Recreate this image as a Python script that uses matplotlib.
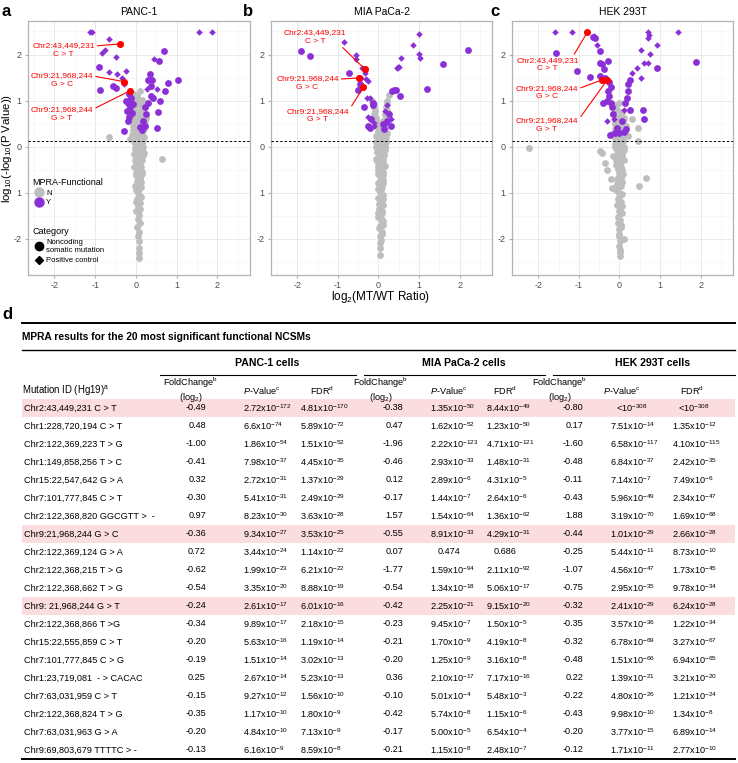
import matplotlib
matplotlib.use('Agg')
import matplotlib.pyplot as plt
from matplotlib.lines import Line2D
from matplotlib.patches import Rectangle
import numpy as np

plt.rcParams['font.family'] = ['Liberation Sans', 'DejaVu Sans']
plt.rcParams['mathtext.fontset'] = 'custom'
plt.rcParams['mathtext.rm'] = 'Liberation Sans'
plt.rcParams['mathtext.it'] = 'Liberation Sans:italic'
plt.rcParams['mathtext.bf'] = 'Liberation Sans:bold'

GRAY = '#BEBEBE'
PURPLE = '#8B2FD6'
RED = '#FF0000'

# ---------------- volcano data ----------------
# Panel a: PANC-1
a_gray_x = [-0.05, 0.02, 0.10, -0.10, 0.05, 0.15, -0.08, 0.00, 0.12, 0.20, -0.12, -0.02, 0.08, 0.18, -0.10, 0.00,
            0.10, 0.20, -0.05, 0.05, 0.15, 0.22, -0.08, 0.02, 0.12, 0.20, -0.04, 0.06, 0.16, -0.10, 0.00, 0.10,
            0.20, -0.66, -0.14, 0.05, 0.15, -0.03, 0.08, 0.18, 0.00, 0.10, 0.20, 0.03, 0.13, 0.64, 0.00, 0.10,
            0.05, 0.15, 0.00, 0.10, 0.05, 0.12, 0.00, 0.08, 0.03, 0.10, 0.05, 0.00, 0.08, 0.05, 0.10, 0.02,
            0.07, 0.05, 0.08, 0.07, 0.07, 0.08,
            -0.06, 0.04, 0.14, 0.24, -0.02, 0.08, 0.18, -0.07, 0.03, 0.13, -0.04, 0.06, 0.16, -0.06, 0.04, 0.14,
            -0.03, 0.07, 0.17, -0.05, 0.05, 0.15, -0.02, 0.08, 0.12, -0.04, 0.06, 0.14, 0.00, 0.10, 0.02, 0.12,
            -0.02, 0.08, 0.04, 0.13, 0.00, 0.10]
a_gray_y = [1.15, 1.10, 1.20, 1.05, 1.00, 1.02, 0.92, 0.90, 0.88, 0.95, 0.80, 0.78, 0.75, 0.80, 0.68, 0.65,
            0.62, 0.66, 0.55, 0.52, 0.50, 0.55, 0.45, 0.42, 0.40, 0.38, 0.32, 0.30, 0.28, 0.25, 0.20, 0.18,
            0.20, 0.20, 0.16, 0.10, 0.08, 0.05, 0.00, -0.02, -0.08, -0.12, -0.15, -0.22, -0.25, -0.27, -0.35, -0.40,
            -0.50, -0.55, -0.62, -0.70, -0.80, -0.88, -0.95, -1.05, -1.15, -1.22, -1.30, -1.40, -1.48, -1.58, -1.65, -1.75,
            -1.85, -1.95, -2.05, -2.20, -2.32, -2.42,
            0.72, 0.70, 0.73, 0.62, 0.58, 0.57, 0.45, 0.35, 0.36, 0.33, 0.24, 0.24, 0.13, 0.12, 0.13, -0.05,
            -0.06, -0.05, -0.18, -0.17, -0.20, -0.30, -0.30, -0.33, -0.45, -0.44, -0.47, -0.60, -0.58, -0.65, -0.75, -0.78,
            -0.85, -0.92, -1.00, -1.10, -1.20, -1.35]
a_circ_x = [0.68, 0.56, -0.90, -0.57, -0.50, -0.88, 1.04, 0.79, 0.71, 0.60, 0.54, 0.52, -0.29, 0.34, 0.40, 0.30,
            0.38, 0.36, 0.42, 0.30, 0.22, 0.25, 0.18, 0.22, 0.15, -0.18, -0.12, -0.20, -0.15, -0.22, -0.18, -0.20,
            -0.10, -0.08, -0.25, 0.10]
a_circ_y = [2.07, 1.85, 1.72, 1.32, 1.27, 1.22, 1.45, 1.38, 1.20, 1.00, 0.76, 0.41, 0.33, 1.58, 1.45, 1.45,
            1.32, 1.10, 1.05, 0.95, 0.85, 0.70, 0.55, 0.45, 0.35, 1.15, 1.05, 0.95, 0.85, 0.78, 0.65, 0.55,
            0.72, 0.92, 1.00, 0.42]
a_diam_x = [-1.13, -1.07, -0.67, 1.54, 1.87, -0.75, -0.84, -0.49, 0.45, -0.67, -0.47, -0.25, 0.52, -0.35, -0.30, 0.28]
a_diam_y = [2.49, 2.49, 2.34, 2.49, 2.49, 2.09, 2.03, 1.94, 1.90, 1.62, 1.58, 1.65, 1.26, 1.50, 1.35, 1.25]
a_red_x = [-0.39, -0.29, -0.15]
a_red_y = [2.23, 1.41, 1.21]

# Panel b: MIA PaCa-2
b_gray_x = [-0.15, -0.12, -0.10, -0.08, -0.10, -0.05, -0.07, -0.03, 0.00, 0.25, 0.22, 0.20, 0.18, 0.22, 0.15, 0.18,
            0.12, 0.15, 0.10, 0.05, -0.02, 0.08, 0.15, 0.00, 0.10, 0.18, -0.05, 0.05, 0.15, 0.00, 0.10, 0.17,
            0.03, 0.12, -0.03, 0.08, 0.15, 0.00, 0.10, 0.05, 0.12, 0.00, 0.08, 0.03, 0.10, 0.00, 0.07, 0.12,
            0.02, 0.08, 0.00, 0.06, 0.10, 0.02, 0.08, 0.04, 0.07, 0.05, 0.05,
            -0.04, 0.06, 0.16, 0.00, 0.10, 0.20, -0.06, 0.04, 0.14, -0.02, 0.08, 0.18, -0.05, 0.05, 0.15, -0.03,
            0.07, 0.13, -0.05, 0.05, 0.12, -0.02, 0.08, 0.00, 0.10, 0.03, 0.12, -0.02, 0.06, 0.10, 0.02, 0.09,
            0.00, 0.06, 0.10, 0.03, 0.08, 0.05]
b_gray_y = [1.00, 0.92, 0.85, 0.78, 0.70, 0.62, 0.55, 0.48, 0.40, 1.12, 1.00, 0.92, 0.85, 0.78, 0.70, 0.62,
            0.55, 0.48, 0.40, 0.35, 0.30, 0.25, 0.30, 0.20, 0.15, 0.18, 0.10, 0.05, 0.05, -0.05, -0.10, -0.08,
            -0.20, -0.25, -0.32, -0.38, -0.42, -0.50, -0.55, -0.65, -0.72, -0.80, -0.88, -0.98, -1.05, -1.12, -1.20, -1.28,
            -1.35, -1.45, -1.52, -1.60, -1.70, -1.78, -1.85, -1.95, -2.02, -2.20, -2.35,
            0.45, 0.42, 0.40, 0.32, 0.33, 0.30, 0.22, 0.20, 0.22, 0.12, 0.10, 0.10, 0.00, -0.02, -0.02, -0.12,
            -0.15, -0.18, -0.27, -0.30, -0.32, -0.42, -0.45, -0.60, -0.62, -0.75, -0.80, -0.92, -0.95, -1.15, -1.25, -1.40,
            -1.45, -1.55, -1.62, -1.72, -1.90, -2.10]
b_circ_x = [-1.91, -1.70, -0.72, -0.46, -0.50, -0.35, -0.14, -0.14, -0.25, -0.20, 0.30, 0.13, 0.33, 0.38, 0.42, 0.52,
            1.60, 1.19, 2.20, 0.20, 0.25, -0.18, 0.10]
b_circ_y = [2.08, 1.96, 1.60, 1.35, 1.23, 0.86, 0.95, 0.90, 0.45, 0.40, 0.45, 0.38, 1.20, 1.22, 1.22, 1.10,
            1.80, 1.25, 2.09, 0.55, 0.70, 0.60, 0.50]
b_diam_x = [-0.84, -0.56, -0.56, -0.41, -0.33, -0.42, -0.30, -0.25, -0.28, -0.22, -0.11, -0.11, 0.16, 0.16, 0.30, 0.45,
            0.48, 0.50, 0.56, 0.99, 0.85, 1.00, 1.02, 0.20, -0.25]
b_diam_y = [2.27, 1.99, 1.90, 1.70, 1.60, 1.50, 1.47, 1.42, 1.06, 1.06, 0.45, 0.52, 0.50, 0.78, 0.60, 1.70,
            1.72, 1.73, 1.92, 2.44, 2.20, 2.02, 1.92, 0.90, 0.65]
b_red_x = [-0.33, -0.49, -0.37]
b_red_y = [1.68, 1.49, 1.29]

# Panel c: HEK 293T
c_gray_x = [-2.23, 0.30, 0.45, 0.46, -0.47, -0.44, -0.35, -0.30, 0.47, 0.65, -0.20, -0.18, 0.12,
            -0.10, 0.00, -0.05, 0.05, -0.15, 0.00, 0.10, -0.10, 0.05, 0.15, -0.05, 0.10, -0.15, 0.00, 0.20, -0.08,
            0.08, -0.12, 0.02, 0.12, -0.05, 0.06, -0.15, 0.00, 0.10, -0.08, 0.04, -0.02, 0.08, -0.05, 0.05, 0.00,
            -0.08, 0.06, 0.00, 0.04, -0.06, 0.02, 0.05, -0.04, 0.02, 0.04, -0.02, 0.00, 0.02, -0.02, 0.01, 0.02,
            -0.08, 0.02, 0.12, -0.12, -0.02, 0.08, -0.10, 0.00, 0.10, -0.06, 0.04, 0.14, -0.10, 0.00, 0.08, -0.06,
            0.04, -0.10, 0.02, 0.10, -0.04, 0.06, -0.08, 0.02, -0.04, 0.06, -0.02, 0.04, -0.06, 0.03, 0.00, -0.03,
            0.05, 0.00, -0.04, 0.03, 0.00, 0.02]
c_gray_y = [-0.04, 0.60, 0.40, 0.13, -0.10, -0.15, -0.35, -0.50, -0.85, -0.68, -0.70, -0.90, -2.01,
            0.90, 0.95, 0.80, 0.75, 0.70, 0.65, 0.60, 0.55, 0.50, 0.45, 0.42, 0.35, 0.30, 0.25, 0.22, 0.15,
            0.12, 0.05, 0.02, -0.02, -0.08, -0.12, -0.20, -0.25, -0.30, -0.40, -0.45, -0.55, -0.60, -0.70, -0.78, -0.88,
            -0.95, -1.02, -1.10, -1.20, -1.28, -1.35, -1.45, -1.52, -1.60, -1.70, -1.80, -1.95, -2.05, -2.15, -2.25, -2.38,
            0.62, 0.60, 0.62, 0.48, 0.47, 0.50, 0.38, 0.37, 0.40, 0.28, 0.27, 0.30, 0.18, 0.17, 0.20, 0.08,
            0.08, -0.02, -0.05, -0.08, -0.15, -0.18, -0.30, -0.35, -0.48, -0.50, -0.65, -0.68, -0.82, -0.85, -1.00, -1.15,
            -1.30, -1.40, -1.65, -1.75, -1.90, -2.30]
c_circ_x = [-0.65, -0.60, -0.48, -1.57, -1.05, -0.48, -0.42, -0.28, -0.38, -0.72, -0.48, -0.35, -0.25, -0.22, -0.28, -0.25,
            -0.40, -0.30, -0.22, -0.18, -0.23, -0.10, 0.00, 0.10, 0.15, 0.14, 0.26, 0.20, 0.25, 0.22, 0.18, 1.89,
            0.92, 0.57, 0.60, -0.15, 0.05, -0.05]
c_circ_y = [2.38, 2.35, 2.07, 2.04, 1.65, 1.82, 1.80, 1.85, 1.68, 1.52, 1.53, 1.50, 1.40, 1.30, 1.20, 1.10,
            0.94, 1.00, 0.95, 0.85, 0.25, 0.30, 0.30, 0.32, 0.38, 0.94, 0.80, 1.35, 1.45, 1.20, 1.05, 1.83,
            1.70, 0.80, 0.60, 0.70, 0.55, 0.40]
c_diam_x = [-1.59, -1.17, -0.62, -0.55, 0.32, 0.43, 0.54, 0.60, 0.70, 0.52, 0.75, 0.92, 0.70, 0.72, 0.70, 1.44,
            -0.14, -0.30, 0.10]
c_diam_y = [2.49, 2.49, 2.40, 2.20, 1.60, 1.70, 1.50, 1.82, 1.82, 2.10, 2.02, 2.20, 2.49, 2.42, 2.35, 2.49,
            0.60, 0.55, 0.80]
c_red_x = [-0.79, -0.43, -0.30]
c_red_y = [2.49, 1.45, 1.45]

red_labels = ['Chr2:43,449,231\nC > T', 'Chr9:21,968,244\nG > C', 'Chr9:21,968,244\nG > T']
panel_titles = ['PANC-1', 'MIA PaCa-2', 'HEK 293T']
x_ticks = [-2, -1, 0, 1, 2]
x_ticklabels = ['-2', '-1', '0', '1', '2']
y_ticks = [-2, -1, 0, 1, 2]
y_ticklabels = ['-2', '1', '0', '1', '2']
p_threshold = 0.05

# ---------------- table data ----------------
mutation_ids = ['Chr2:43,449,231 C > T', 'Chr1:228,720,194 C > T', 'Chr2:122,369,223 T > G',
                'Chr1:149,858,256 T > C', 'Chr15:22,547,642 G > A', 'Chr7:101,777,845 C > T',
                'Chr2:122,368,820 GGCGTT >  -', 'Chr9:21,968,244 G > C', 'Chr2:122,369,124 G > A',
                'Chr2:122,368,215 T > G', 'Chr2:122,368,662 T > G', 'Chr9: 21,968,244 G > T',
                'Chr2:122,368,866 T >G', 'Chr15:22,555,859 C > T', 'Chr7:101,777,845 C > G',
                'Chr1:23,719,081  - > CACAC', 'Chr7:63,031,959 C > T', 'Chr2:122,368,824 T > G',
                'Chr7:63,031,963 G > A', 'Chr9:69,803,679 TTTTC > -']
panc_fc = ['-0.49', '0.48', '-1.00', '-0.41', '0.32', '-0.30', '0.97', '-0.36', '0.72', '-0.62',
           '-0.54', '-0.24', '-0.34', '-0.20', '-0.19', '0.25', '-0.15', '-0.35', '-0.20', '-0.13']
panc_p = ['2.72e-172', '6.6e-74', '1.86e-54', '7.98e-37', '2.72e-31', '5.41e-31', '8.23e-30', '9.34e-27',
          '3.44e-24', '1.99e-23', '3.35e-20', '2.61e-17', '9.89e-17', '5.63e-16', '1.51e-14', '2.67e-14',
          '9.27e-12', '1.17e-10', '4.84e-10', '6.16e-9']
panc_fdr = ['4.81e-170', '5.89e-72', '1.51e-52', '4.45e-35', '1.37e-29', '2.49e-29', '3.63e-28', '3.53e-25',
            '1.14e-22', '6.21e-22', '8.88e-19', '6.01e-16', '2.18e-15', '1.19e-14', '3.02e-13', '5.23e-13',
            '1.56e-10', '1.80e-9', '7.13e-9', '8.59e-8']
mia_fc = ['-0.38', '0.47', '-1.96', '-0.46', '0.12', '-0.17', '1.57', '-0.55', '0.07', '-1.77',
          '-0.54', '-0.42', '-0.23', '-0.21', '-0.20', '0.36', '-0.10', '-0.42', '-0.17', '-0.21']
mia_p = ['1.35e-50', '1.62e-52', '2.22e-123', '2.93e-33', '2.89e-6', '1.44e-7', '1.54e-64', '8.91e-33',
         '0.474', '1.59e-94', '1.34e-18', '2.25e-21', '9.45e-7', '1.70e-9', '1.25e-9', '2.10e-17',
         '5.01e-4', '5.74e-8', '5.00e-5', '1.15e-8']
mia_fdr = ['8.44e-49', '1.23e-50', '4.71e-121', '1.48e-31', '4.31e-5', '2.64e-6', '1.36e-62', '4.29e-31',
           '0.686', '2.11e-92', '5.06e-17', '9.15e-20', '1.50e-5', '4.19e-8', '3.16e-8', '7.17e-16',
           '5.48e-3', '1.15e-6', '6.54e-4', '2.48e-7']
hek_fc = ['-0.80', '0.17', '-1.60', '-0.48', '-0.11', '-0.43', '1.88', '-0.44', '-0.25', '-1.07',
          '-0.75', '-0.32', '-0.35', '-0.32', '-0.48', '0.22', '-0.22', '-0.43', '-0.20', '-0.12']
hek_p = ['<1e-308', '7.51e-14', '6.58e-117', '6.84e-37', '7.14e-7', '5.96e-49', '3.19e-70', '1.01e-29',
         '5.44e-11', '4.56e-47', '2.95e-35', '2.41e-29', '3.57e-36', '6.78e-69', '1.51e-66', '1.39e-21',
         '4.80e-26', '9.98e-10', '3.77e-15', '1.71e-11']
hek_fdr = ['<1e-308', '1.35e-12', '4.10e-115', '2.42e-35', '7.49e-6', '2.34e-47', '1.69e-68', '2.66e-28',
           '8.73e-10', '1.73e-45', '9.78e-34', '6.24e-28', '1.22e-34', '3.27e-67', '6.94e-65', '3.21e-20',
           '1.21e-24', '1.34e-8', '6.89e-14', '2.77e-10']
highlight_rows = [0, 7, 11]
cell_groups = ['PANC-1 cells', 'MIA PaCa-2 cells', 'HEK 293T cells']
table_title = 'MPRA results for the 20 most significant functional NCSMs'


def fmt(v):
    if v.startswith('<'):
        e = int(v.split('e')[1])
        return r'<10$^{%d}$' % e
    if 'e' in v:
        m, e = v.split('e')
        return m + r'x10$^{%d}$' % int(e)
    return v


# ---------------- figure ----------------
W, H = 738, 763
fig = plt.figure(figsize=(W / 100, H / 100), dpi=100)


def volcano(rect, gx, gy, cx, cy, dx, dy, rx, ry, title, label_pos, relpos):
    ax = fig.add_axes(rect)
    ax.set_xlim(-2.65, 2.8)
    ax.set_ylim(-2.79, 2.73)
    ax.set_xticks(x_ticks)
    ax.set_xticklabels(x_ticklabels)
    ax.set_yticks(y_ticks)
    ax.set_yticklabels(y_ticklabels)
    ax.set_xticks([-2.5, -1.5, -0.5, 0.5, 1.5, 2.5], minor=True)
    ax.set_yticks([-2.5, -1.5, -0.5, 0.5, 1.5, 2.5], minor=True)
    ax.grid(which='major', color='#E6E6E6', lw=0.6)
    ax.grid(which='minor', color='#F2F2F2', lw=0.4)
    ax.set_axisbelow(True)
    for s in ax.spines.values():
        s.set_color('#B3B3B3')
        s.set_linewidth(0.9)
    ax.tick_params(which='major', length=2, color='#B3B3B3', labelsize=6.5, labelcolor='#4D4D4D', pad=2.5)
    ax.tick_params(which='minor', length=0)
    ax.scatter(gx, gy, s=24, c=GRAY, marker='o', linewidths=0, zorder=2)
    ax.scatter(cx, cy, s=24, c=PURPLE, marker='o', linewidths=0, zorder=3)
    ax.scatter(dx, dy, s=11, c=PURPLE, marker='D', linewidths=0, zorder=3)
    ax.axhline(np.log10(-np.log10(p_threshold)), color='black', lw=0.7, ls=(0, (2.5, 2)), zorder=4)
    ax.scatter(rx, ry, s=26, c=RED, marker='o', linewidths=0, zorder=5)
    for lab, (tx, ty), pxy, rp in zip(red_labels, label_pos, zip(rx, ry), relpos):
        ax.annotate(lab, xy=pxy, xytext=(tx, ty), textcoords='data', ha='center', va='center',
                    color=RED, fontsize=6.0, linespacing=1.3, zorder=6,
                    arrowprops=dict(arrowstyle='-', color=RED, lw=0.8, shrinkA=0, shrinkB=0, relpos=rp))
    ax.set_title(title, fontsize=7.5, pad=4)
    return ax


axa = volcano([0.0379, 0.6396, 0.3009, 0.333], a_gray_x, a_gray_y, a_circ_x, a_circ_y, a_diam_x, a_diam_y,
              a_red_x, a_red_y, panel_titles[0],
              [(-1.78, 2.10), (-1.82, 1.45), (-1.82, 0.71)],
              [(1.0, 0.75), (1.0, 0.75), (1.0, 0.8)])
axb = volcano([0.3672, 0.6396, 0.2995, 0.333], b_gray_x, b_gray_y, b_circ_x, b_circ_y, b_diam_x, b_diam_y,
              b_red_x, b_red_y, panel_titles[1],
              [(-1.56, 2.38), (-1.75, 1.38), (-1.50, 0.67)],
              [(0.83, 0.25), (1.0, 0.75), (1.0, 0.85)])
axc = volcano([0.6938, 0.6396, 0.2995, 0.333], c_gray_x, c_gray_y, c_circ_x, c_circ_y, c_diam_x, c_diam_y,
              c_red_x, c_red_y, panel_titles[2],
              [(-1.77, 1.78), (-1.79, 1.17), (-1.79, 0.47)],
              [(0.9, 1.0), (1.0, 0.75), (1.0, 0.8)])

# legends in panel a
h1 = [Line2D([], [], marker='o', ls='', color=GRAY, ms=6.5, label='N'),
      Line2D([], [], marker='o', ls='', color=PURPLE, ms=6.5, label='Y')]
leg1 = axa.legend(handles=h1, title='MPRA-Functional', loc='upper left', bbox_to_anchor=(0.0, 0.40),
                  frameon=False, fontsize=5.5, title_fontsize=6.5, alignment='left', handletextpad=0.2,
                  labelspacing=0.3, borderaxespad=0.2, handlelength=1.6)
axa.add_artist(leg1)
h2 = [Line2D([], [], marker='o', ls='', color='black', ms=6, label='Noncoding\nsomatic mutation'),
      Line2D([], [], marker='D', ls='', color='black', ms=4.5, label='Positive control')]
axa.legend(handles=h2, title='Category', loc='upper left', bbox_to_anchor=(0.0, 0.205),
           frameon=False, fontsize=5.5, title_fontsize=6.5, alignment='left', handletextpad=0.2,
           labelspacing=0.35, borderaxespad=0.2, handlelength=1.6)

fig.text(381 / W, 1 - 297 / H, r'log$_2$(MT/WT Ratio)', ha='center', va='center', fontsize=8.5)
fig.text(7 / W, 1 - 148 / H, r'log$_{10}$(-log$_{10}$(P Value))', ha='center', va='center',
         rotation=90, fontsize=8.2)
for letter, px, py in [('a', 2, 4), ('b', 243, 4), ('c', 490, 4), ('d', 2, 307)]:
    fig.text(px / W, 1 - py / H, letter, ha='left', va='top', fontsize=12, fontweight='bold')

# ---------------- table ----------------
axt = fig.add_axes([0, 0, 1, 1], zorder=-5)
axt.set_xlim(0, W)
axt.set_ylim(H, 0)
axt.axis('off')

LX, RX = 22, 735
row0, dy_row = 408, 18.0
fs = 6.6
for r in highlight_rows:
    yc = row0 + r * dy_row
    axt.add_patch(Rectangle((LX, yc - 9), RX - LX, 18, color='#FBDCDF', lw=0, zorder=0))

axt.plot([LX, RX], [323, 323], color='black', lw=1.4)
axt.plot([LX, RX], [350, 350], color='black', lw=1.0)
axt.plot([LX, RX], [759, 759], color='black', lw=1.4)
group_spans = [(160, 356), (364, 545), (553, RX)]
for (x0, x1), g in zip(group_spans, cell_groups):
    axt.plot([x0, x1], [375, 375], color='black', lw=0.8)
    axt.text((x0 + x1) / 2 + 9, 363, g, ha='center', va='center', fontsize=7.6, fontweight='bold')
axt.text(LX, 337, table_title, ha='left', va='center', fontsize=7.4, fontweight='bold')

axt.text(LX, 391, r'Mutation ID (Hg19)$^{\rm a}$', ha='left', va='center', fontsize=fs + 0.3)
fc_hdr_x = [191, 381, 560]
p_hdr_x = [262, 449, 622]
fdr_hdr_x = [322, 505, 692]
for fx, px, dx in zip(fc_hdr_x, p_hdr_x, fdr_hdr_x):
    axt.text(fx, 382.5, r'FoldChange$^{\rm b}$', ha='center', va='center', fontsize=fs)
    axt.text(fx, 397.5, r'(log$_2$)', ha='center', va='center', fontsize=fs)
    axt.text(px, 391, r'$P$-Value$^{\rm c}$', ha='center', va='center', fontsize=fs)
    axt.text(dx, 391, r'FDR$^{\rm d}$', ha='center', va='center', fontsize=fs)

fc_right = [206, 403, 583]
p_left = [243, 430, 610]
fdr_left = [300, 486, 672]
groups = [(panc_fc, panc_p, panc_fdr), (mia_fc, mia_p, mia_fdr), (hek_fc, hek_p, hek_fdr)]
for i, mid in enumerate(mutation_ids):
    yc = row0 + i * dy_row
    axt.text(LX + 2, yc, mid, ha='left', va='center', fontsize=fs)
    for (fcs, ps, fdrs), fr, pl, dl in zip(groups, fc_right, p_left, fdr_left):
        axt.text(fr, yc, fcs[i], ha='right', va='center', fontsize=fs)
        for vals, xl in ((ps, pl), (fdrs, dl)):
            v = vals[i]
            if v.startswith('<'):
                axt.text(xl + 22, yc, fmt(v), ha='center', va='center', fontsize=fs)
            elif 'e' not in v:
                axt.text(xl + 19, yc, fmt(v), ha='center', va='center', fontsize=fs)
            else:
                axt.text(xl, yc, fmt(v), ha='left', va='center', fontsize=fs)

fig.savefig('out.png', dpi=100)
